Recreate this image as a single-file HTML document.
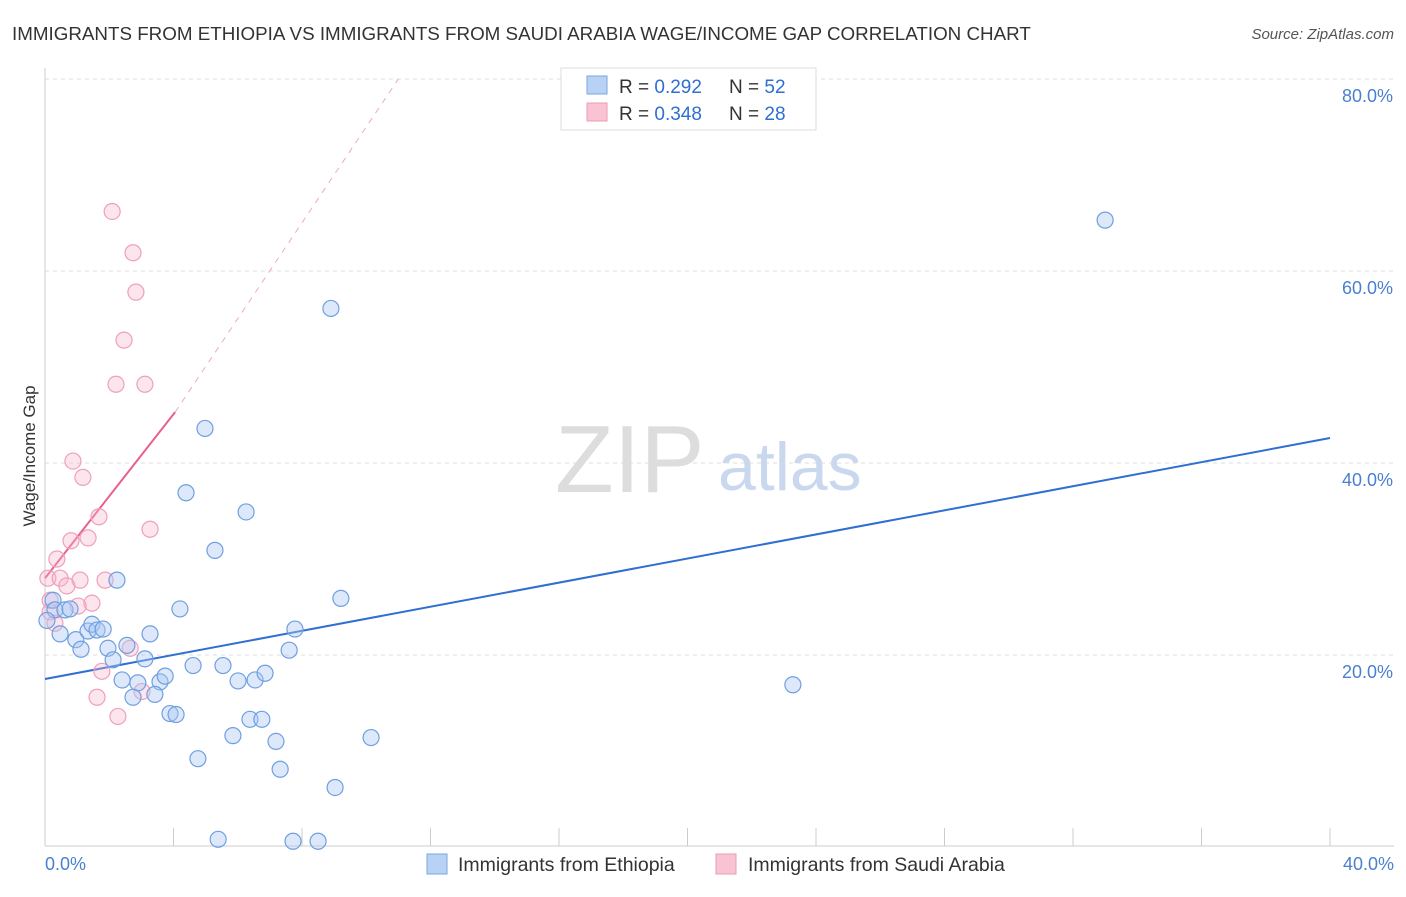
<!DOCTYPE html>
<html><head><meta charset="utf-8"><style>
body{margin:0;background:#fff;font-family:"Liberation Sans",sans-serif;}
svg text{font-family:"Liberation Sans",sans-serif;}
</style></head><body>
<svg id="chart" width="1406" height="892" xmlns="http://www.w3.org/2000/svg">
<text x="12" y="40" font-size="18.8" fill="#333">IMMIGRANTS FROM ETHIOPIA VS IMMIGRANTS FROM SAUDI ARABIA WAGE/INCOME GAP CORRELATION CHART</text>
<text x="1394" y="39" font-size="15" fill="#555" font-style="italic" text-anchor="end">Source: ZipAtlas.com</text>
<text x="35" y="456" font-size="17" fill="#333" text-anchor="middle" transform="rotate(-90 35 456)">Wage/Income Gap</text>
<text x="555" y="492" font-size="96" fill="#ddd" font-family="Liberation Serif">ZIP</text>
<text x="718" y="490" font-size="68" fill="#c9d8ef">atlas</text>
<g id="grid"></g><g id="lines"></g><g id="pts"></g>
<g>
<rect x="561" y="68" width="255" height="62" fill="#fff" stroke="#ddd"/>
<rect x="587" y="76" width="20" height="18" fill="#b8d2f5" stroke="#7aa7e0"/>
<text x="619" y="93" font-size="19" fill="#333">R = <tspan fill="#2e6fd1">0.292</tspan></text>
<text x="729" y="93" font-size="19" fill="#333">N = <tspan fill="#2e6fd1">52</tspan></text>
<rect x="587" y="103" width="20" height="18" fill="#f8c4d4" stroke="#ee9ab5"/>
<text x="619" y="120" font-size="19" fill="#333">R = <tspan fill="#2e6fd1">0.348</tspan></text>
<text x="729" y="120" font-size="19" fill="#333">N = <tspan fill="#2e6fd1">28</tspan></text>
</g>
<g>
<rect x="427" y="854" width="20" height="20" fill="#b8d2f5" stroke="#7aa7e0"/>
<text x="458" y="871" font-size="19.5" fill="#333">Immigrants from Ethiopia</text>
<rect x="716" y="854" width="20" height="20" fill="#f8c4d4" stroke="#ee9ab5"/>
<text x="748" y="871" font-size="19.5" fill="#333">Immigrants from Saudi Arabia</text>
</g>
<text x="45" y="870" font-size="18" fill="#4a80d0">0.0%</text>
<text x="1394" y="870" font-size="18" fill="#4a80d0" text-anchor="end">40.0%</text>
</svg>
<script>
const yTicks=[20,40,60,80];
function konv(p){return Math.round((p-45)/32.125*100)/100;}
const blueX=[1105,331,205,186,246,215,117,341,180,295,150,289,53,55,65,70,60,76,81,88,92,97,103,108,113,127,145,122,138,160,165,193,223,238,255,265,133,155,170,176,250,262,233,276,371,198,280,335,218,293,318,793,47].map(konv);
const blueY=[65.3,56.1,43.6,36.9,34.9,30.9,27.8,25.9,24.8,22.7,22.2,20.5,25.7,24.7,24.7,24.8,22.2,21.6,20.6,22.5,23.2,22.6,22.7,20.7,19.5,21.0,19.6,17.4,17.1,17.2,17.8,18.9,18.9,17.3,17.4,18.1,15.6,15.9,13.9,13.8,13.3,13.3,11.6,11.0,11.4,9.2,8.1,6.2,0.8,0.6,0.6,16.9,23.6];
const pinkX=[112,133,136,124,116,145,73,83,99,150,88,71,57,48,60,80,105,67,92,78,50,55,130,102,142,97,118,50].map(konv);
const pinkY=[66.2,61.9,57.8,52.8,48.2,48.2,40.2,38.5,34.4,33.1,32.2,31.9,30.0,28.0,28.0,27.8,27.8,27.2,25.4,25.1,24.5,23.3,20.7,18.3,16.2,15.6,13.6,25.7];
const blueFit=[[0,17.5],[40,42.6]];
const pinkFit=[[0,28],[4.05,45.3]];
const pinkDash=[[4.05,45.3],[11,80]];
const X=v=>45+v*32.125, Y=v=>847-v*9.6;
const ns="http://www.w3.org/2000/svg";
function mk(t,a,p){const e=document.createElementNS(ns,t);for(const k in a)e.setAttribute(k,a[k]);document.getElementById(p).appendChild(e);return e;}
let e=mk('line',{x1:45,y1:68,x2:45,y2:846,stroke:'#ccc'},'grid');


e=mk('line',{x1:45,y1:846,x2:1394,y2:846,stroke:'#ccc'},'grid');


for(let i=0;i<=10;i++){e=mk('line',{x1:X(i*4),y1:828,x2:X(i*4),y2:846,stroke:'#ccc'},'grid');

}
yTicks.forEach(t=>{e=mk('line',{x1:45,y1:Y(t),x2:1394,y2:Y(t),stroke:'#ddd','stroke-dasharray':'4,4'},'grid');


e=mk('text',{x:1393,y:Y(t)+23,'font-size':18,fill:'#4a80d0','text-anchor':'end'},'grid');e.textContent=t+'.0%';

});
function ln(d,c,w,dash,n){e=mk('line',{x1:X(d[0][0]),y1:Y(d[0][1]),x2:X(d[1][0]),y2:Y(d[1][1]),stroke:c,'stroke-width':w},'lines');
if(dash)e.setAttribute('stroke-dasharray',dash);

}
pinkX.forEach((x,i)=>{e=mk('circle',{cx:X(x),cy:Y(pinkY[i]),r:8,fill:'rgba(248,180,202,0.35)',stroke:'#eea0ba','stroke-width':1.2},'pts');

});
blueX.forEach((x,i)=>{e=mk('circle',{cx:X(x),cy:Y(blueY[i]),r:8,fill:'rgba(170,200,245,0.4)',stroke:'#6f9fe0','stroke-width':1.2},'pts');

});
ln(blueFit,'#2e6fd1',2,null,'ethiopia-trendline');
ln(pinkFit,'#e8608c',2,null,'saudi-trendline');
ln(pinkDash,'#eeaabd',1,'6,6','saudi-trendline-extension');
</script>
</body></html>
